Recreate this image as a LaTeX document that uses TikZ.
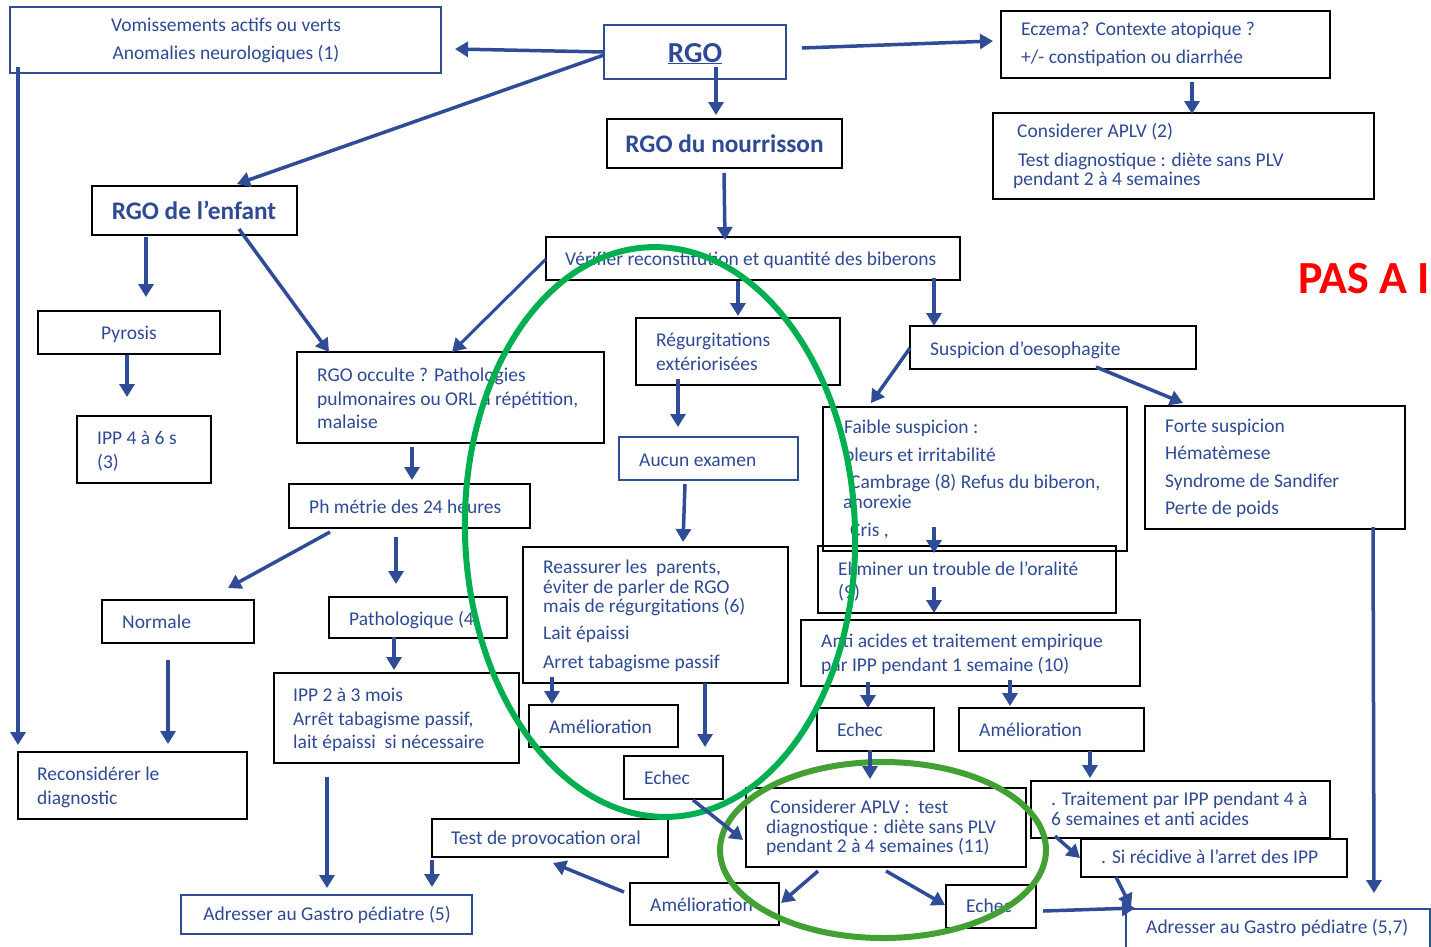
\documentclass[tikz,border=0pt]{standalone}
\usepackage{fontspec}
\setmainfont{Carlito}
\usetikzlibrary{arrows.meta,calc}
\definecolor{tblue}{RGB}{46,74,148}
\definecolor{ablue}{RGB}{47,76,150}
\definecolor{gA}{RGB}{0,176,80}
\definecolor{gB}{RGB}{67,160,53}
\definecolor{redA}{RGB}{255,0,0}
\newcommand\mybox[6]{\node[#1, minimum width={(#5)-(#3)}, minimum height={(#6)-(#4)}] (#2) at ({((#3)+(#5))/2},{((#4)+(#6))/2}) {};}
\begin{document}
\begin{tikzpicture}[x=1pt,y=-1pt,
 bx/.style={draw=black, line width=2pt, rectangle, inner sep=0pt, outer sep=0pt},
 bbx/.style={draw=ablue, line width=1.6pt, rectangle, inner sep=0pt, outer sep=0pt},
 tx/.style={anchor=base west, inner sep=0pt, text=tblue, font=\fontsize{19.5}{23}\selectfont},
 txc/.style={tx, anchor=base},
 bold/.style={font=\bfseries\fontsize{25.3}{30}\selectfont},
 arr/.style={draw=ablue, line width=3.5pt, -{Triangle[length=13pt,width=15pt]}},
 ell/.style={line width=6pt}
 ]
\fill[white] (0,0) rectangle (1431,946);
\useasboundingbox (0,0) rectangle (1431,946);
% boxes
\mybox{bbx}{vom}{10}{7}{441}{73}
\mybox{bbx}{rgo}{604}{25}{786}{79}
\mybox{bx}{ecz}{1001}{11}{1330}{78}
\mybox{bx}{aplvb}{993}{113}{1374}{199}
\mybox{bx}{nour}{607}{119}{842}{168}
\mybox{bx}{enf}{92}{186}{297}{235}
\mybox{bx}{ver}{546}{237}{960}{280}
\mybox{bx}{pyr}{38}{311}{220}{354}
\mybox{bx}{ippq}{77}{416}{211}{483}
\mybox{bx}{occ}{297}{352}{604}{443}
\mybox{bx}{reg}{636}{318}{840}{385}
\mybox{bx}{oes}{910}{326}{1196}{369}
\mybox{bx}{fai}{823}{407}{1127}{551}
\mybox{bx}{forte}{1145}{406}{1405}{529}
\mybox{bbx}{auc}{619}{437}{798}{480}
\mybox{bx}{phm}{289}{484}{530}{528}
\mybox{bx}{rea}{523}{547}{788}{683}
\mybox{bx}{eli}{818}{546}{1116}{613}
\mybox{bx}{nor}{102}{600}{254}{643}
\mybox{bx}{pat}{329}{597}{507}{638}
\mybox{bx}{anti}{801}{620}{1140}{686}
\mybox{bx}{ippd}{274}{673}{519}{763}
\mybox{bx}{ameA}{529}{705}{678}{747}
\mybox{bx}{echA}{624}{756}{723}{799}
\mybox{bx}{echB}{817}{708}{934}{751}
\mybox{bx}{ameB}{959}{708}{1144}{751}
\mybox{bx}{rec}{18}{752}{247}{819}
\mybox{bx}{aplv}{746}{788}{1026}{867}
\mybox{bx}{trt}{1031}{781}{1330}{838}
\mybox{bx}{sir}{1081}{839}{1347}{877}
\mybox{bx}{tpo}{432}{819}{668}{857}
\mybox{bbx}{adrA}{181}{895}{472}{934}
\mybox{bx}{ameC}{630}{883}{779}{925}
\mybox{bx}{echC}{946}{885}{1036}{928}
\mybox{bbx}{adrB}{1126}{909}{1430}{962}
% texts
\node[txc] (t1) at (226,31) {Vomissements actifs ou verts};
\node[txc] (t2) at (226,59) {Anomalies neurologiques (1)};
\node[txc, font=\bfseries\fontsize{29}{34}\selectfont] (t3) at (695,62) {\underline{RGO}};
\node[tx] (t4) at (1021,35) {Eczema? Contexte atopique ?};
\node[tx] (t5) at (1021,63) {+/- constipation ou diarrhée};
\node[tx] (t6) at (1017,137) {Considerer APLV (2)};
\node[tx] (t7) at (1018,166) {Test diagnostique : diète sans PLV};
\node[tx] (t8) at (1013,185) {pendant 2 à 4 semaines};
\node[txc, bold] (t9) at (724.5,152) {RGO du nourrisson};
\node[txc, bold] (t10) at (194,219) {RGO de l’enfant};
\node[tx] (t11) at (565,265) {Vérifier reconstitution et quantité des biberons};
\node[txc] (t12) at (129,339) {Pyrosis};
\node[tx] (t13) at (97,444) {IPP 4 à 6 s};
\node[tx] (t14) at (97,468) {(3)};
\node[tx] (t15) at (317,381) {RGO occulte ? Pathologies};
\node[tx] (t16) at (317,405) {pulmonaires ou ORL à répétition,};
\node[tx] (t17) at (317,428) {malaise};
\node[tx] (t18) at (656,346) {Régurgitations};
\node[tx] (t19) at (656,370) {extériorisées};
\node[tx] (t20) at (930,355) {Suspicion d’oesophagite};
\node[tx] (t21) at (844,433) {Faible suspicion :};
\node[tx] (t22) at (844,461) {pleurs et irritabilité};
\node[tx] (t23) at (850,488) {Cambrage (8) Refus du biberon,};
\node[tx] (t24) at (843,508) {anorexie};
\node[tx] (t25) at (850,536) {Cris ,};
\node[tx] (t26) at (838,575) {Eliminer un trouble de l’oralité};
\node[tx] (t27) at (838,598) {(9)};
\node[tx] (t28) at (1165,432) {Forte suspicion};
\node[tx] (t29) at (1165,459) {Hématèmese};
\node[tx] (t30) at (1165,487) {Syndrome de Sandifer};
\node[tx] (t31) at (1165,514) {Perte de poids};
\node[tx] (t32) at (639,466) {Aucun examen};
\node[tx] (t33) at (309,513) {Ph métrie des 24 heures};
\node[tx] (t34) at (543,573) {Reassurer les\ \ parents,};
\node[tx] (t35) at (543,593) {éviter de parler de RGO};
\node[tx] (t36) at (543,612) {mais de régurgitations (6)};
\node[tx] (t37) at (543,639) {Lait épaissi};
\node[tx] (t38) at (543,668) {Arret tabagisme passif};
\node[tx] (t39) at (122,628) {Normale};
\node[tx] (t40) at (349,625) {Pathologique (4)};
\node[tx] (t41) at (821,647) {Anti acides et traitement empirique};
\node[tx] (t42) at (821,671) {par IPP pendant 1 semaine (10)};
\node[tx] (t43) at (293,701) {IPP 2 à 3 mois};
\node[tx] (t44) at (293,725) {Arrêt tabagisme passif,};
\node[tx] (t45) at (293,748) {lait épaissi\ \ si nécessaire};
\node[tx] (t46) at (549,733) {Amélioration};
\node[tx] (t47) at (644,784) {Echec};
\node[tx] (t48) at (837,736) {Echec};
\node[tx] (t49) at (979,736) {Amélioration};
\node[tx] (t50) at (37,780) {Reconsidérer le};
\node[tx] (t51) at (37,804) {diagnostic};
\node[tx] (t52) at (770,813) {Considerer APLV :\ \ test};
\node[tx] (t53) at (766,833) {diagnostique : diète sans PLV};
\node[tx] (t54) at (766,852) {pendant 2 à 4 semaines (11)};
\node[tx] (t55) at (1051,805) {. Traitement par IPP pendant 4 à};
\node[tx] (t56) at (1051,825) {6 semaines et anti acides};
\node[tx] (t57) at (1101,863) {. Si récidive à l’arret des IPP};
\node[tx] (t58) at (451,844) {Test de provocation oral};
\node[txc] (t59) at (327,920) {Adresser au Gastro pédiatre (5)};
\node[tx] (t60) at (650,911) {Amélioration};
\node[tx] (t61) at (966,912) {Echec};
\node[tx] (t62) at (1146,933) {Adresser au Gastro pédiatre (5,7)};
\node[tx, text=redA, font=\bfseries\fontsize{46}{52}\selectfont] (t63) at (1298,293) {PAS A I};
% ellipses
\draw[gA, ell, rotate around={2:(660,532)}] (660,532) ellipse [x radius=195, y radius=285];
\draw[gB, ell] (883,850) ellipse [x radius=163, y radius=88];
% arrows
\draw[arr] (rgo.west) -- ($(vom.east)+(14,9)$);
\draw[arr] ($(rgo.west)+(0,3)$) -- ($(enf.north)+(42.5,-2)$);
\draw[arr] ($(rgo.east)+(16,-4)$) -- ($(ecz.west)+(-8,-3.5)$);
\draw[arr] ($(rgo.center)+(21,15)$) -- ($(nour.north)+(-8.5,-4)$);
\draw[arr] ($(ecz.south)+(26.5,4)$) -- ($(aplvb.north)+(8.5,1)$);
\draw[arr] ($(nour.south)+(-0.5,5)$) -- ($(ver.north)+(-28,3)$);
\draw[arr] ($(enf.south)+(-48.5,2)$) -- ($(pyr.north)+(17,-14)$);
\draw[arr] ($(enf.south)+(44.5,-6)$) -- ($(occ.north)+(-121.5,0)$);
\draw[arr, line width=3pt] ($(ver.west)+(0,0.5)$) -- ($(occ.north)+(1.5,0)$);
\draw[arr] ($(ver.south)+(-15,1)$) -- ($(reg.north)+(0,-2)$);
\draw[arr] ($(ver.south)+(181,-2)$) -- ($(oes.north)+(-119,0)$);
\draw[arr] ($(oes.west)+(0,0.5)$) -- ($(fai.north)+(-104,-4)$);
\draw[arr] ($(oes.south)+(43,-2)$) -- ($(forte.north)+(-92,-3)$);
\draw[arr] ($(pyr.south)+(-2,1)$) -- ($(ippq.north)+(-17,-19)$);
\draw[arr] ($(occ.south)+(-38.5,4)$) -- ($(phm.north)+(2.5,-4)$);
\draw[arr] ($(reg.south)+(-60,-6)$) -- ($(auc.north)+(-30.5,-10)$);
\draw[arr] ($(auc.south)+(-23.5,4)$) -- ($(rea.north)+(27.5,-5)$);
\draw[arr] ($(phm.south)+(-79.5,4)$) -- ($(nor.north)+(50,-12)$);
\draw[arr] ($(phm.south)+(-13.5,9)$) -- ($(pat.north)+(-22,-13)$);
\draw[arr] ($(fai.south)+(-41,-24)$) -- ($(eli.north)+(-33,7)$);
\draw[arr] ($(eli.south)+(-33,-26)$) -- ($(anti.north)+(-36.5,-7)$);
\draw[arr] ($(pat.south)+(-24,-1)$) -- ($(ippd.north)+(-2.5,-3)$);
\draw[arr] ($(nor.south)+(-10,17)$) -- ($(rec.north)+(35.5,-8)$);
\draw[arr] ($(vom.south west)+(8,-6)$) -- ($(rec.north west)+(0,-7)$);
\draw[arr] ($(rea.south)+(-103.5,-6)$) -- ($(ameA.north)+(-51.5,-1)$);
\draw[arr] ($(rea.south)+(49.5,0)$) -- ($(echA.north)+(31.5,-9)$);
\draw[arr] ($(anti.south)+(-102.5,-4)$) -- ($(echB.north)+(-7.5,0)$);
\draw[arr] ($(anti.south)+(39.5,-6)$) -- ($(ameB.north)+(-41.5,-2)$);
\draw[arr] ($(echB.south)+(-5.5,-1)$) -- ($(aplv.north)+(-16,-9)$);
\draw[arr] ($(ameB.south)+(38.5,0)$) -- ($(trt.north)+(-90.5,-3)$);
\draw[arr] ($(echA.south)+(19.5,1)$) -- ($(aplv.west)+(-3,12.5)$);
\draw[arr] ($(ippd.south)+(-69.5,14)$) -- ($(adrA.north)+(0.5,-7)$);
\draw[arr] ($(tpo.south west)+(0,3)$) -- ($(adrA.north)+(105.5,-8)$);
\draw[arr] ($(ameC.west)+(-6,-12)$) -- ($(tpo.south)+(3,6)$);
\draw[arr] ($(aplv.south)+(-68,4)$) -- ($(ameC.east)+(2,-1)$);
\draw[arr] ($(aplv.south)+(0,4)$) -- ($(echC.west)+(-1,-1.5)$);
\draw[arr] ($(trt.south)+(-125.5,-2)$) -- ($(sir.west)+(-1,0)$);
\draw[arr] ($(sir.south)+(-98,0)$) -- ($(adrB.north west)+(5,-2)$);
\draw[arr] ($(echC.east)+(7,4.5)$) -- ($(adrB.north west)+(9,-1)$);
\draw[arr] ($(forte.south)+(98,-2)$) -- ($(adrB.north)+(96,-16)$);
\end{tikzpicture}
\end{document}
